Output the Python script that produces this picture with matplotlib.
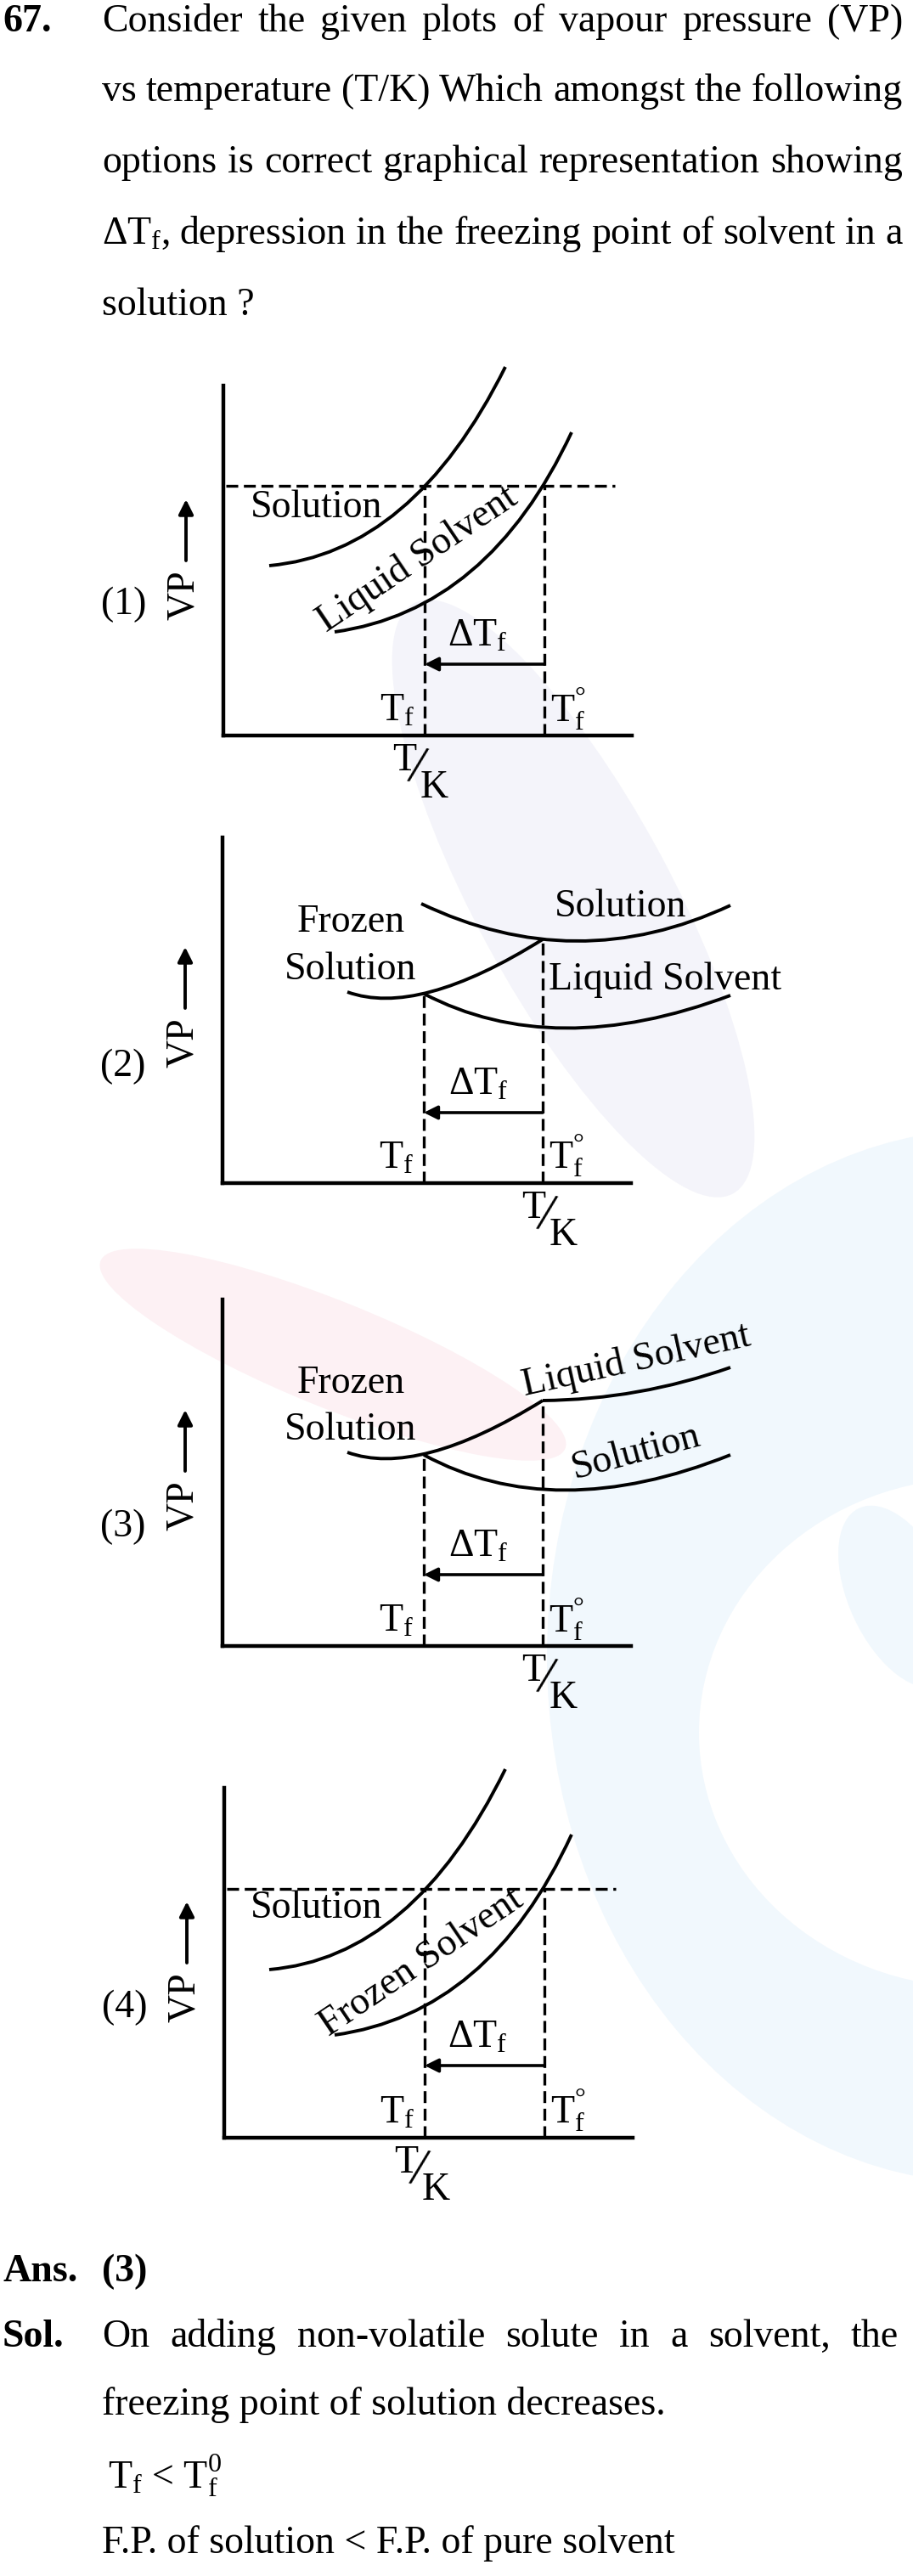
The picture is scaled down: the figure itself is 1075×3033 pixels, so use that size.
import matplotlib
matplotlib.use('Agg')
import matplotlib.pyplot as plt
from matplotlib.patches import Ellipse, PathPatch
from matplotlib.path import Path

plt.rcParams['font.family'] = ['Liberation Serif', 'DejaVu Serif']
plt.rcParams['mathtext.fontset'] = 'custom'
plt.rcParams['mathtext.rm'] = 'Liberation Serif'
plt.rcParams['mathtext.it'] = 'Liberation Serif:italic'
plt.rcParams['mathtext.bf'] = 'Liberation Serif:bold'

W, H = 1075, 3033
FS = 33
INK = 'black'
LAV = '#f4f4fa'
PINK = '#fdf1f4'
SKY = '#f1f8fd'

# ---- values (units: px from each plot's origin)
OPTIONS = ['(1)', '(2)', '(3)', '(4)']
TF = [237, 237, 237, 236]          # freezing point of solution
TF0 = [378, 377, 377, 377]         # freezing point of pure solvent
TF_TOP = [294, 224, 225, 293]      # top of the Tf dashed line
TF0_TOP = [294, 287, 289, 293]     # top of the Tf° dashed line
LEVEL = [294, None, None, 293]     # common vapour pressure (dashed horizontal)
ARROW_Y = [84, 83, 84, 85]
LABEL_Y = [154, 137, 140, 153]

# quadratic bezier curves: start, control, end
solution_1 = [(54, 200), (223, 215), (332, 434)]
liquid_1 = [(131, 122), (312, 147), (410, 357)]
solution_2 = [(234, 329), (416, 242), (598, 327)]
frozen_2 = [(147, 225), (230, 195), (377, 287)]
liquid_2 = [(237, 223), (390, 143), (598, 221)]
frozen_3 = [(147, 228), (230, 198), (377, 289)]
liquid_3 = [(377, 289), (490, 290), (598, 328)]
solution_3 = [(237, 225), (390, 142), (598, 225)]
solution_4 = [(53, 198), (222, 212), (331, 434)]
frozen_4 = [(130, 121), (312, 146), (409, 357)]

# plot boxes on the page: left, bottom, width, height (px)
BOX = [(263, 866, 481, 412), (262, 1393, 481, 407),
       (262, 1938, 481, 408), (264, 2517, 481, 412)]

question = [
    'Consider the given plots of vapour pressure (VP)',
    'vs temperature (T/K) Which amongst the following',
    'options is correct graphical representation showing',
    r'ΔT$_\mathrm{f}$, depression in the freezing point of solvent in a',
]

fig = plt.figure(figsize=(W / 100, H / 100), dpi=100)
page = fig.add_axes([0, 0, 1, 1])
page.set_xlim(0, W)
page.set_ylim(H, 0)
page.axis('off')

# faint watermark in the background
page.add_patch(Ellipse((1160, 1950), 1032, 1240, color=SKY, lw=0))
page.add_patch(Ellipse((1150, 2040), 654, 600, color='white', lw=0))
page.add_patch(Ellipse((1060, 1880), 120, 230, angle=-25, color=SKY, lw=0))
page.add_patch(Ellipse((675, 1058), 790, 230, angle=61.6, color=LAV, lw=0))
page.add_patch(Ellipse((392, 1595), 590, 125, angle=22, color=PINK, lw=0))

renderer = fig.canvas.get_renderer()


def justify(line, y, x0, x1, **kw):
    words = line.split(' ')
    ts = [page.text(x0, y, w, fontsize=FS, va='baseline', ha='left', **kw) for w in words]
    ws = [t.get_window_extent(renderer).width for t in ts]
    gap = (x1 - x0 - sum(ws)) / (len(ws) - 1)
    x = x0
    for t, w in zip(ts, ws):
        t.set_x(x)
        x += w + gap


page.text(3, 37, '67.', fontsize=FS, fontweight='bold', va='baseline')
for line, y in zip(question, [37, 119, 203, 287]):
    justify(line, y, 120, 1063)
page.text(120, 371, 'solution ?', fontsize=FS, va='baseline')

page.text(3, 2686, 'Ans.', fontsize=FS, fontweight='bold', va='baseline')
page.text(120, 2686, '(3)', fontsize=FS, fontweight='bold', va='baseline')
page.text(3, 2763, 'Sol.', fontsize=FS, fontweight='bold', va='baseline')
justify('On adding non-volatile solute in a solvent, the', 2763, 120, 1058)
page.text(120, 2843, 'freezing point of solution decreases.', fontsize=FS, va='baseline')
page.text(127, 2930, r'T$_\mathrm{f}$ < T$_\mathrm{f}^\mathrm{0}$', fontsize=FS, va='baseline')
page.text(120, 3006, 'F.P. of solution < F.P. of pure solvent', fontsize=FS, va='baseline')


def frame(i):
    l, b, w, h = BOX[i]
    ax = fig.add_axes([l / W, 1 - b / H, w / W, h / H])
    ax.set_xlim(0, w)
    ax.set_ylim(0, h)
    ax.patch.set_alpha(0)
    for s in ('top', 'right'):
        ax.spines[s].set_visible(False)
    for s in ('left', 'bottom'):
        ax.spines[s].set_linewidth(3.2)
    ax.set_xticks([])
    ax.set_yticks([])
    return ax


def curve(ax, pts):
    path = Path(pts, [Path.MOVETO, Path.CURVE3, Path.CURVE3])
    ax.add_patch(PathPatch(path, fill=False, lw=2.8, edgecolor=INK, clip_on=False))


def common(ax, i, dt_x, tk_x):
    tf, tf0 = TF[i], TF0[i]
    dash = dict(color=INK, lw=2.4, ls=(0, (4.2, 2.0)), clip_on=False)
    ax.plot([tf, tf], [0, TF_TOP[i]], **dash)
    ax.plot([tf0, tf0], [0, TF0_TOP[i]], **dash)
    if LEVEL[i] is not None:
        ax.plot([3, 461], [LEVEL[i], LEVEL[i]], **dash)
    ax.annotate('', xy=(tf, ARROW_Y[i]), xytext=(tf0, ARROW_Y[i]),
                arrowprops=dict(arrowstyle='-|>', lw=2.6, color=INK, mutation_scale=24,
                                shrinkA=0, shrinkB=0))
    ax.text(dt_x, ARROW_Y[i] + 21, r'ΔT$_\mathrm{f}$', fontsize=FS, ha='center', va='baseline')
    ax.text(tf - 12, 17, r'T$_\mathrm{f}$', fontsize=FS, ha='right', va='baseline')
    ax.text(tf0 + 7, 17, r'T$_\mathrm{f}^\mathrm{°}$', fontsize=FS, ha='left', va='baseline')
    # y axis label and option number
    ax.text(-46, 165, 'VP', fontsize=FS, rotation=90, ha='center', va='center')
    ax.annotate('', xy=(-44, 278), xytext=(-44, 206), annotation_clip=False,
                arrowprops=dict(arrowstyle='-|>', lw=2.8, color=INK, mutation_scale=26,
                                shrinkA=0, shrinkB=0))
    ax.text(-117, LABEL_Y[i], OPTIONS[i], fontsize=FS, ha='center', va='center')
    # T/K
    ax.text(tk_x, -30, 'T', fontsize=FS, ha='center', va='center')
    ax.text(tk_x + 15, -40, '/', fontsize=46, rotation=-12, ha='center', va='center')
    ax.text(tk_x + 35, -62, 'K', fontsize=FS, ha='center', va='center')


lab = dict(fontsize=FS, ha='center', va='center', rotation_mode='anchor')

# option (1)
ax = frame(0)
curve(ax, solution_1)
curve(ax, liquid_1)
common(ax, 0, 299, 213)
ax.text(110, 268, 'Solution', **lab)
ax.text(229, 207, 'Liquid Solvent', rotation=34, **lab)

# option (2)
ax = frame(1)
curve(ax, solution_2)
curve(ax, frozen_2)
curve(ax, liquid_2)
common(ax, 1, 301, 366)
ax.text(151, 307, 'Frozen', **lab)
ax.text(151, 251, 'Solution', **lab)
ax.text(469, 325, 'Solution', **lab)
ax.text(521, 239, 'Liquid Solvent', **lab)

# option (3)
ax = frame(2)
curve(ax, frozen_3)
curve(ax, liquid_3)
curve(ax, solution_3)
common(ax, 2, 301, 366)
ax.text(151, 309, 'Frozen', **lab)
ax.text(151, 254, 'Solution', **lab)
ax.text(487, 336, 'Liquid Solvent', rotation=12.5, **lab)
ax.text(487, 228, 'Solution', rotation=15, **lab)

# option (4)
ax = frame(3)
curve(ax, solution_4)
curve(ax, frozen_4)
common(ax, 3, 298, 214)
ax.text(109, 270, 'Solution', **lab)
ax.text(232, 206, 'Frozen Solvent', rotation=34, **lab)

fig.savefig('out.png', dpi=100, facecolor='white')
